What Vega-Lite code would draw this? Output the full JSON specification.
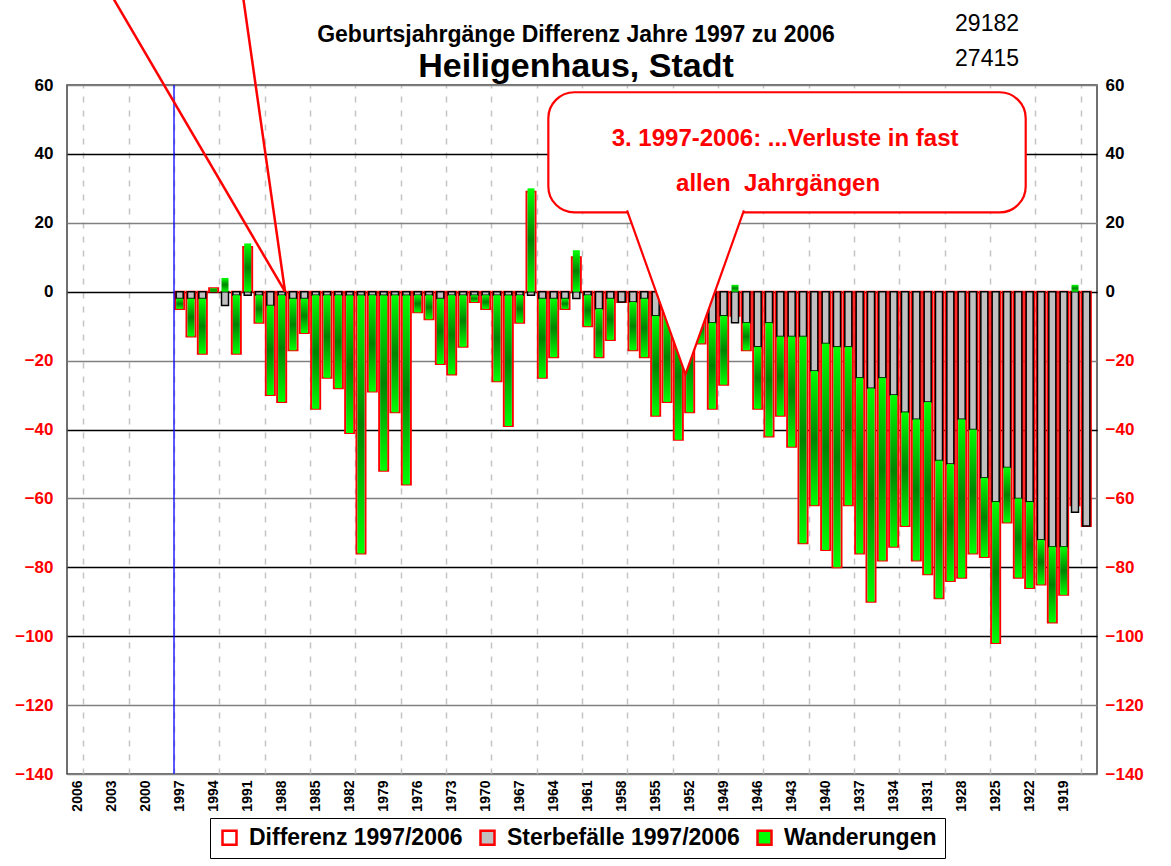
{
  "$schema": "https://vega.github.io/schema/vega-lite/v6.json",
  "width": 1030,
  "height": 689,
  "autosize": "none",
  "padding": {"left": 67, "top": 85, "right": 74, "bottom": 92},
  "background": "white",
  "config": {
    "font": "Liberation Sans",
    "view": {"stroke": "#404040", "strokeWidth": 1.5}
  },
  "title": {
    "text": "Geburtsjahrgänge Differenz Jahre 1997 zu 2006",
    "subtitle": "Heiligenhaus, Stadt",
    "anchor": "middle",
    "font": "Liberation Sans",
    "fontSize": 23,
    "fontWeight": "bold",
    "color": "black",
    "subtitleFont": "Liberation Sans",
    "subtitleFontSize": 34,
    "subtitleFontWeight": "bold",
    "subtitleColor": "black",
    "subtitlePadding": 3,
    "offset": 0,
    "dy": 86,
    "dx": -6
  },
  "datasets": {
    "main": [
      {"year": 1997, "d": -5, "s": -2, "w": -3},
      {"year": 1996, "d": -13, "s": -2, "w": -11},
      {"year": 1995, "d": -18, "s": -2, "w": -16},
      {"year": 1994, "d": 1, "s": 0, "w": 1},
      {"year": 1993, "d": 0, "s": -4, "w": 4},
      {"year": 1992, "d": -18, "s": -1, "w": -17},
      {"year": 1991, "d": 13, "s": -1, "w": 14},
      {"year": 1990, "d": -9, "s": -1, "w": -8},
      {"year": 1989, "d": -30, "s": -4, "w": -26},
      {"year": 1988, "d": -32, "s": -1, "w": -31},
      {"year": 1987, "d": -17, "s": -2, "w": -15},
      {"year": 1986, "d": -12, "s": -2, "w": -10},
      {"year": 1985, "d": -34, "s": -1, "w": -33},
      {"year": 1984, "d": -25, "s": -1, "w": -24},
      {"year": 1983, "d": -28, "s": -1, "w": -27},
      {"year": 1982, "d": -41, "s": -1, "w": -40},
      {"year": 1981, "d": -76, "s": -1, "w": -75},
      {"year": 1980, "d": -29, "s": -1, "w": -28},
      {"year": 1979, "d": -52, "s": -1, "w": -51},
      {"year": 1978, "d": -35, "s": -1, "w": -34},
      {"year": 1977, "d": -56, "s": -1, "w": -55},
      {"year": 1976, "d": -6, "s": -1, "w": -5},
      {"year": 1975, "d": -8, "s": -1, "w": -7},
      {"year": 1974, "d": -21, "s": -2, "w": -19},
      {"year": 1973, "d": -24, "s": -1, "w": -23},
      {"year": 1972, "d": -16, "s": -1, "w": -15},
      {"year": 1971, "d": -3, "s": -1, "w": -2},
      {"year": 1970, "d": -5, "s": -1, "w": -4},
      {"year": 1969, "d": -26, "s": -1, "w": -25},
      {"year": 1968, "d": -39, "s": -1, "w": -38},
      {"year": 1967, "d": -9, "s": -1, "w": -8},
      {"year": 1966, "d": 29, "s": -1, "w": 30},
      {"year": 1965, "d": -25, "s": -2, "w": -23},
      {"year": 1964, "d": -19, "s": -2, "w": -17},
      {"year": 1963, "d": -5, "s": -2, "w": -3},
      {"year": 1962, "d": 10, "s": -2, "w": 12},
      {"year": 1961, "d": -10, "s": -1, "w": -9},
      {"year": 1960, "d": -19, "s": -5, "w": -14},
      {"year": 1959, "d": -14, "s": -2, "w": -12},
      {"year": 1958, "d": -3, "s": -3, "w": 0},
      {"year": 1957, "d": -17, "s": -3, "w": -14},
      {"year": 1956, "d": -19, "s": -2, "w": -17},
      {"year": 1955, "d": -36, "s": -7, "w": -29},
      {"year": 1954, "d": -32, "s": -6, "w": -26},
      {"year": 1953, "d": -43, "s": -6, "w": -37},
      {"year": 1952, "d": -35, "s": -7, "w": -28},
      {"year": 1951, "d": -15, "s": -6, "w": -9},
      {"year": 1950, "d": -34, "s": -9, "w": -25},
      {"year": 1949, "d": -27, "s": -7, "w": -20},
      {"year": 1948, "d": -7, "s": -9, "w": 2},
      {"year": 1947, "d": -17, "s": -9, "w": -8},
      {"year": 1946, "d": -34, "s": -16, "w": -18},
      {"year": 1945, "d": -42, "s": -9, "w": -33},
      {"year": 1944, "d": -36, "s": -13, "w": -23},
      {"year": 1943, "d": -45, "s": -13, "w": -32},
      {"year": 1942, "d": -73, "s": -13, "w": -60},
      {"year": 1941, "d": -62, "s": -23, "w": -39},
      {"year": 1940, "d": -75, "s": -15, "w": -60},
      {"year": 1939, "d": -80, "s": -16, "w": -64},
      {"year": 1938, "d": -62, "s": -16, "w": -46},
      {"year": 1937, "d": -76, "s": -25, "w": -51},
      {"year": 1936, "d": -90, "s": -28, "w": -62},
      {"year": 1935, "d": -78, "s": -25, "w": -53},
      {"year": 1934, "d": -74, "s": -30, "w": -44},
      {"year": 1933, "d": -68, "s": -35, "w": -33},
      {"year": 1932, "d": -78, "s": -37, "w": -41},
      {"year": 1931, "d": -82, "s": -32, "w": -50},
      {"year": 1930, "d": -89, "s": -49, "w": -40},
      {"year": 1929, "d": -84, "s": -50, "w": -34},
      {"year": 1928, "d": -83, "s": -37, "w": -46},
      {"year": 1927, "d": -76, "s": -40, "w": -36},
      {"year": 1926, "d": -77, "s": -54, "w": -23},
      {"year": 1925, "d": -102, "s": -61, "w": -41},
      {"year": 1924, "d": -67, "s": -51, "w": -16},
      {"year": 1923, "d": -83, "s": -60, "w": -23},
      {"year": 1922, "d": -86, "s": -61, "w": -25},
      {"year": 1921, "d": -85, "s": -72, "w": -13},
      {"year": 1920, "d": -96, "s": -74, "w": -22},
      {"year": 1919, "d": -88, "s": -74, "w": -14},
      {"year": 1918, "d": -62, "s": -64, "w": 2},
      {"year": 1917, "d": -68, "s": -68, "w": 0}
    ]
  },
  "layer": [
    {
      "data": {"name": "main"},
      "mark": {"type": "bar", "size": 9, "stroke": "#ff0000", "strokeWidth": 2},
      "encoding": {
        "x": {
          "field": "year",
          "type": "quantitative",
          "scale": {"domain": [1916.5, 2006.5], "reverse": true, "nice": false, "zero": false},
          "axis": {
            "orient": "bottom",
            "values": [2006, 2003, 2000, 1997, 1994, 1991, 1988, 1985, 1982, 1979, 1976, 1973, 1970, 1967, 1964, 1961, 1958, 1955, 1952, 1949, 1946, 1943, 1940, 1937, 1934, 1931, 1928, 1925, 1922, 1919],
            "format": "d",
            "labelAngle": -90,
            "labelFont": "Liberation Sans",
            "labelFontSize": 14,
            "labelFontWeight": "bold",
            "labelColor": "black",
            "labelPadding": 6,
            "labelOverlap": false,
            "ticks": false,
            "domain": false,
            "grid": false,
            "title": null
          }
        },
        "y": {
          "field": "d",
          "type": "quantitative",
          "scale": {"domain": [-140, 60], "nice": false, "zero": false},
          "axis": {
            "orient": "left",
            "values": [60, 40, 20, 0, -20, -40, -60, -80, -100, -120, -140],
            "labelFont": "Liberation Sans",
            "labelFontSize": 17,
            "labelFontWeight": "bold",
            "labelColor": {"condition": {"test": "datum.value < 0", "value": "#ff0000"}, "value": "black"},
            "labelPadding": 14,
            "ticks": false,
            "domain": false,
            "grid": true,
            "gridColor": {"condition": {"test": "datum.value === 40 || datum.value === 0 || datum.value === -40 || datum.value === -80 || datum.value === -100", "value": "black"}, "value": "#808080"},
            "gridWidth": 1.3,
            "title": null
          }
        },
        "y2": {"datum": 0},
        "fill": {
          "datum": "Differenz 1997/2006",
          "type": "nominal",
          "scale": {
            "domain": ["Differenz 1997/2006", "Sterbefälle 1997/2006", "Wanderungen"],
            "range": ["#ffffff", "#c0c0c0", "#00ff00"]
          },
          "legend": {
            "title": null,
            "orient": "none",
            "legendX": 143,
            "legendY": 733,
            "direction": "horizontal",
            "columns": 3,
            "strokeColor": "black",
            "fillColor": "white",
            "padding": 8,
            "symbolType": "square",
            "symbolSize": 196,
            "symbolStrokeWidth": 2.5,
            "labelFont": "Liberation Sans",
            "labelFontSize": 23,
            "labelFontWeight": "bold",
            "labelColor": "black",
            "labelOffset": 8,
            "columnPadding": 12,
            "labelLimit": 400,
            "encode": {
              "symbols": {
                "update": {
                  "stroke": {"signal": "datum.value === 'Differenz 1997/2006' ? '#ff0000' : (datum.value === 'Wanderungen' ? '#00c000' : '#000000')"},
                  "strokeWidth": {"value": 2.5}
                }
              }
            }
          }
        }
      }
    },
    {
      "data": {"name": "main"},
      "transform": [
        {"fold": ["s", "w"], "as": ["key", "value"]},
        {"stack": "value", "groupby": ["year"], "sort": [{"field": "key", "order": "ascending"}], "as": ["v0", "v1"]}
      ],
      "layer": [
        {
          "transform": [{"filter": "datum.key === 's'"}],
          "mark": {"type": "bar", "size": 7, "fill": "#c0c0c0", "stroke": "black", "strokeWidth": 1.5},
          "encoding": {
            "x": {
              "field": "year",
              "type": "quantitative",
              "axis": {
                "orient": "top",
                "values": [2005.5, 2004.5, 2003.5, 2002.5, 2001.5, 2000.5, 1999.5, 1998.5, 1997.5, 1996.5, 1995.5, 1994.5, 1993.5, 1992.5, 1991.5, 1990.5, 1989.5, 1988.5, 1987.5, 1986.5, 1985.5, 1984.5, 1983.5, 1982.5, 1981.5, 1980.5, 1979.5, 1978.5, 1977.5, 1976.5, 1975.5, 1974.5, 1973.5, 1972.5, 1971.5, 1970.5, 1969.5, 1968.5, 1967.5, 1966.5, 1965.5, 1964.5, 1963.5, 1962.5, 1961.5, 1960.5, 1959.5, 1958.5, 1957.5, 1956.5, 1955.5, 1954.5, 1953.5, 1952.5, 1951.5, 1950.5, 1949.5, 1948.5, 1947.5, 1946.5, 1945.5, 1944.5, 1943.5, 1942.5, 1941.5, 1940.5, 1939.5, 1938.5, 1937.5, 1936.5, 1935.5, 1934.5, 1933.5, 1932.5, 1931.5, 1930.5, 1929.5, 1928.5, 1927.5, 1926.5, 1925.5, 1924.5, 1923.5, 1922.5, 1921.5, 1920.5, 1919.5, 1918.5, 1917.5],
                "labels": false,
                "ticks": false,
                "domain": false,
                "grid": true,
                "gridColor": "#c4c4c4",
                "gridDash": [6, 8],
                "gridWidth": 1.5,
                "title": null
              }
            },
            "y": {
              "field": "v0",
              "type": "quantitative",
              "axis": {
                "orient": "right",
                "values": [60, 40, 20, 0, -20, -40, -60, -80, -100, -120, -140],
                "labelFont": "Liberation Sans",
                "labelFontSize": 17,
                "labelFontWeight": "bold",
                "labelColor": {"condition": {"test": "datum.value < 0", "value": "#ff0000"}, "value": "black"},
                "labelPadding": 8,
                "ticks": false,
                "domain": false,
                "grid": false,
                "title": null
              }
            },
            "y2": {"field": "v1"}
          }
        },
        {
          "transform": [{"filter": "datum.key === 'w'"}],
          "mark": {
            "type": "bar",
            "size": 7,
            "fill": {
              "gradient": "linear",
              "x1": 0, "y1": 0, "x2": 0, "y2": 1,
              "stops": [
                {"offset": 0, "color": "#00ff00"},
                {"offset": 0.5, "color": "#008400"},
                {"offset": 1, "color": "#00ff00"}
              ]
            }
          },
          "encoding": {
            "x": {"field": "year", "type": "quantitative"},
            "y": {"field": "v0", "type": "quantitative"},
            "y2": {"field": "v1"}
          }
        }
      ]
    },
    {
      "data": {"values": [{}]},
      "mark": {"type": "rule", "color": "#0000ff", "strokeWidth": 1.3},
      "encoding": {"x": {"datum": 1997.5, "type": "quantitative", "axis": null}}
    },
    {
      "data": {"values": [{}]},
      "mark": {"type": "rect", "fill": "white", "stroke": "#ff0000", "strokeWidth": 2.2, "cornerRadius": 26, "clip": false},
      "encoding": {
        "x": {"datum": 1964.47, "type": "quantitative", "axis": null},
        "x2": {"datum": 1922.35},
        "y": {"datum": 57.9, "type": "quantitative", "axis": null},
        "y2": {"datum": 23.0}
      }
    },
    {
      "data": {"values": [{}]},
      "mark": {"type": "point", "shape": "M -0.713 -1 L 0 1 L 0.713 -1", "size": 26896, "filled": true, "fill": "white", "stroke": "#ff0000", "strokeWidth": 2.2, "opacity": 1, "fillOpacity": 1, "strokeOpacity": 1, "clip": false},
      "encoding": {
        "x": {"datum": 1952.37, "type": "quantitative", "axis": null},
        "y": {"datum": -0.2, "type": "quantitative", "axis": null}
      }
    },
    {
      "data": {"values": [{}]},
      "mark": {"type": "text", "text": "3. 1997-2006: ...Verluste in fast", "font": "Liberation Sans", "fontSize": 24, "fontWeight": "bold", "color": "#ff0000", "align": "center", "baseline": "middle", "clip": false},
      "encoding": {
        "x": {"datum": 1943.58, "type": "quantitative", "axis": null},
        "y": {"datum": 44.2, "type": "quantitative", "axis": null}
      }
    },
    {
      "data": {"values": [{}]},
      "mark": {"type": "text", "text": "allen \u00a0Jahrgängen", "font": "Liberation Sans", "fontSize": 24, "fontWeight": "bold", "color": "#ff0000", "align": "center", "baseline": "middle", "clip": false},
      "encoding": {
        "x": {"datum": 1944.2, "type": "quantitative", "axis": null},
        "y": {"datum": 31.2, "type": "quantitative", "axis": null}
      }
    },
    {
      "data": {"values": [{}]},
      "mark": {"type": "rule", "color": "#ff0000", "strokeWidth": 2.5, "clip": false},
      "encoding": {
        "x": {"datum": 1987.7, "type": "quantitative", "axis": null},
        "y": {"datum": 0, "type": "quantitative", "axis": null},
        "x2": {"datum": 2002.83},
        "y2": {"datum": 85}
      }
    },
    {
      "data": {"values": [{}]},
      "mark": {"type": "rule", "color": "#ff0000", "strokeWidth": 2.5, "clip": false},
      "encoding": {
        "x": {"datum": 1987.7, "type": "quantitative", "axis": null},
        "y": {"datum": 0, "type": "quantitative", "axis": null},
        "x2": {"datum": 1991.38},
        "y2": {"datum": 85}
      }
    },
    {
      "data": {"values": [{}]},
      "mark": {"type": "text", "text": "29182", "font": "Liberation Sans", "fontSize": 23, "color": "black", "align": "center", "baseline": "middle", "clip": false},
      "encoding": {
        "x": {"datum": 1925.76, "type": "quantitative", "axis": null},
        "y": {"datum": 77.6, "type": "quantitative", "axis": null}
      }
    },
    {
      "data": {"values": [{}]},
      "mark": {"type": "text", "text": "27415", "font": "Liberation Sans", "fontSize": 23, "color": "black", "align": "center", "baseline": "middle", "clip": false},
      "encoding": {
        "x": {"datum": 1925.76, "type": "quantitative", "axis": null},
        "y": {"datum": 67.5, "type": "quantitative", "axis": null}
      }
    }
  ],
  "resolve": {"axis": {"x": "independent", "y": "independent"}}
}
